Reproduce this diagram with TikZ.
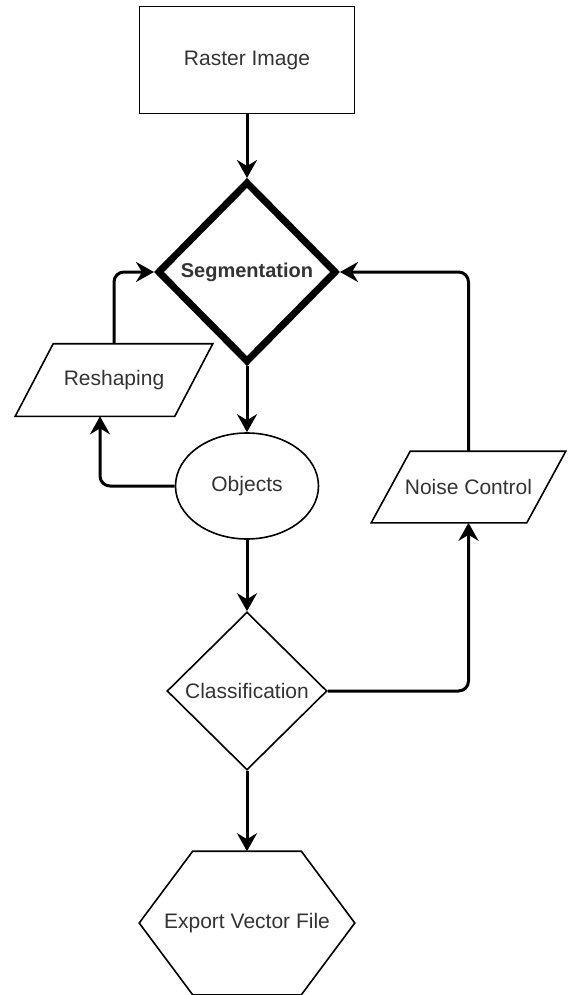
\documentclass[tikz,border=0pt]{standalone}
\usepackage{fontspec}
\setmainfont{Liberation Sans}
\usetikzlibrary{arrows.meta}
\usetikzlibrary{shapes.geometric}
\tikzset{box/.style = {draw, line width=1.6pt, inner sep=0, text=black!80,
                       font=\fontsize{21}{25}\selectfont}}
\tikzset{ghost/.style = {box, draw=none, rectangle}}
\tikzset{outline/.style = {line width=1.6pt}}
\tikzset{flow/.style = {line width=3pt, rounded corners=10pt,
                        -{Stealth[length=18pt, width=20pt, inset=6pt]}}}

\begin{document}
\begin{tikzpicture}[x=1pt, y=-1pt]
      \useasboundingbox (0, 0) rectangle (571, 995);

      \node [box, rectangle, minimum width=215, minimum height=107] (raster) at (247, 60) {Raster Image};
      \node [box, diamond, line width=7pt, minimum width=179, minimum height=181,
             font=\bfseries\fontsize{20}{24}\selectfont] (seg) at (247, 272) {Segmentation};
      \node [ghost, minimum width=158, minimum height=71] (reshape) at (114, 380) {Reshaping};
      \node [box, ellipse, minimum width=143, minimum height=106] (objects) at (247, 486) {Objects};
      \node [ghost, minimum width=154, minimum height=70] (noise) at (468.5, 487) {Noise Control};
      \node [box, diamond, minimum width=160, minimum height=158] (classif) at (247, 691) {Classification};
      \node [ghost, minimum width=214, minimum height=142] (export) at (247, 923) {Export Vector File};

      \draw [outline] ([xshift=-19]reshape.south west) -- ([xshift=19]reshape.north west)
            -- ([xshift=19]reshape.north east) -- ([xshift=-19]reshape.south east) -- cycle;
      \draw [outline] ([xshift=-19.5]noise.south west) -- ([xshift=19.5]noise.north west)
            -- ([xshift=19.5]noise.north east) -- ([xshift=-19.5]noise.south east) -- cycle;
      \draw [outline] (export.west) -- ([xshift=53.5]export.north west)
            -- ([xshift=-53.5]export.north east) -- (export.east)
            -- ([xshift=-53.5]export.south east) -- ([xshift=53.5]export.south west) -- cycle;

      \draw [flow] (raster.south) -- (seg.north);
      \draw [flow] (seg.south) -- (objects.north);
      \draw [flow] (objects.west) -| ([xshift=-14]reshape.south);
      \draw [flow] (reshape.north) |- (seg.west);
      \draw [flow] (objects.south) -- (classif.north);
      \draw [flow] (classif.east) -| (noise.south);
      \draw [flow] (noise.north) |- (seg.east);
      \draw [flow] (classif.south) -- (export.north);
    \end{tikzpicture}
\end{document}
